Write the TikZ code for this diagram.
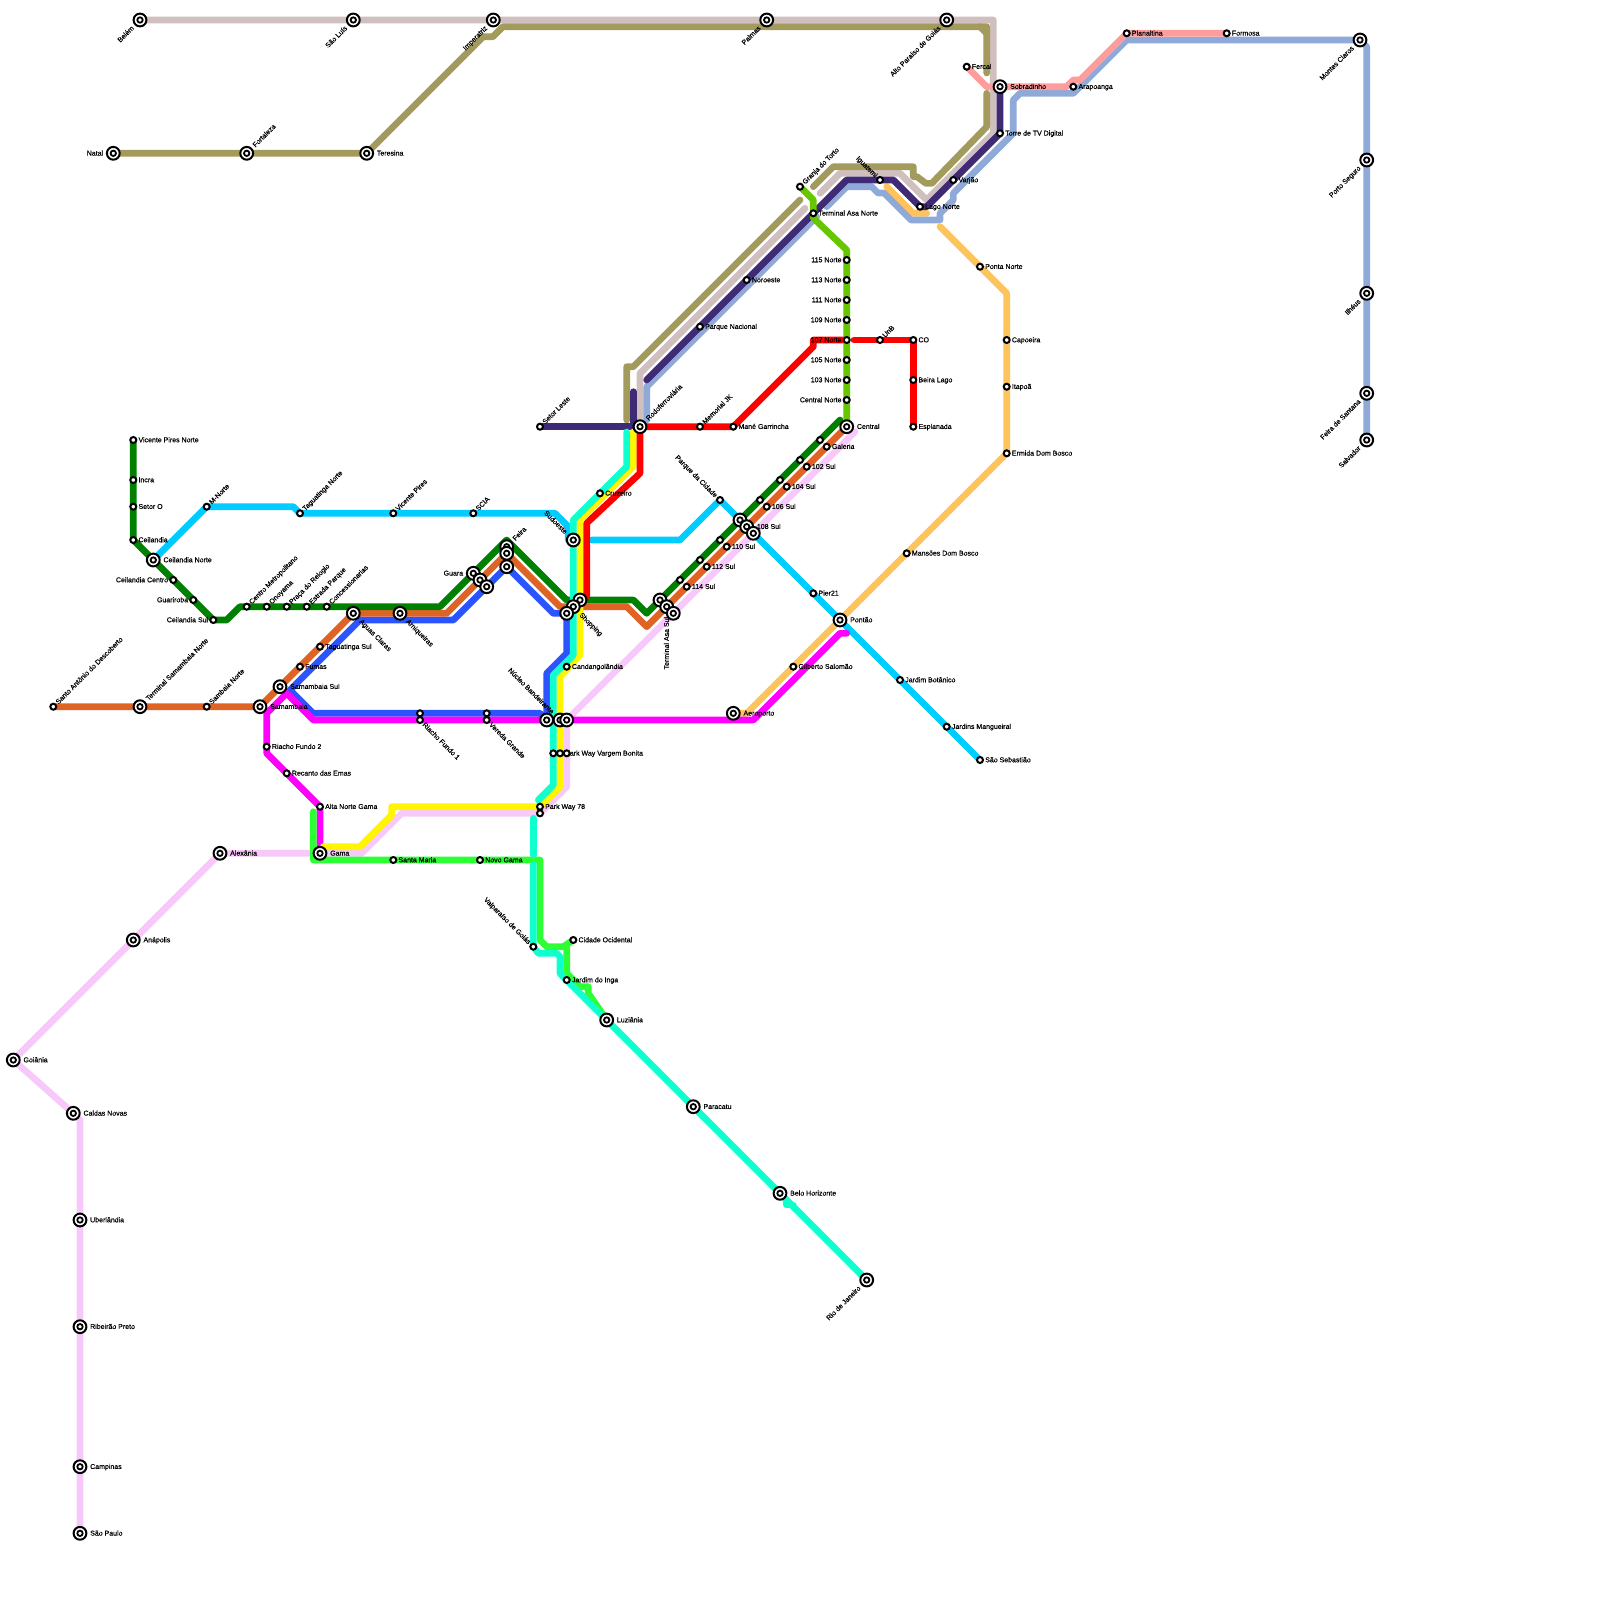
\documentclass[tikz,border=0pt]{standalone}
\usepackage{fontspec}
\setmainfont[FakeBold=0.4]{Liberation Sans}
\pgfdeclarelayer{bg}\pgfdeclarelayer{lab}
\pgfsetlayers{bg,lab,main}
\definecolor{cPink}{HTML}{F7C8FA}
\definecolor{cTaupe}{HTML}{D0BFBF}
\definecolor{cOlive}{HTML}{A39B5C}
\definecolor{cGold}{HTML}{FFC35C}
\definecolor{cSteel}{HTML}{8FAAD8}
\definecolor{cSalmon}{HTML}{FF9C9C}
\definecolor{cPurple}{HTML}{3F2A75}
\definecolor{cCyan}{HTML}{00CCFF}
\definecolor{cRoyal}{HTML}{2B54FF}
\definecolor{cMagenta}{HTML}{FF00FF}
\definecolor{cOrange}{HTML}{E06326}
\definecolor{cGreen}{HTML}{008000}
\definecolor{cYellow}{HTML}{FFF500}
\definecolor{cRed}{HTML}{FF0000}
\definecolor{cSpring}{HTML}{2CFF33}
\definecolor{cAqua}{HTML}{0FFFCE}
\definecolor{cLime}{HTML}{66C600}
\tikzset{
  ln/.style={line width=6.67pt,line cap=round,line join=round},
  ssta/.style={circle,draw=black,fill=white,line width=2pt,minimum size=6pt,inner sep=0pt},
  hsta/.style={circle,draw=black,fill=white,line width=2pt,minimum size=12.8pt,inner sep=0pt,
    path picture={\draw[black,line width=1.8pt] (path picture bounding box.center) circle (2.7pt);}},
  ltext/.style={font=\fontsize{7}{8}\selectfont,text=black,inner ysep=0pt,text height=5pt,text depth=0.5pt},
  lE/.style={ltext,anchor=west},
  lW/.style={ltext,anchor=east},
  lNE/.style={ltext,rotate=45,anchor=west},
  lSW/.style={ltext,rotate=45,anchor=east},
  lSE/.style={ltext,rotate=-45,anchor=west},
  lNW/.style={ltext,rotate=-45,anchor=east},
  lV/.style={ltext,rotate=90,anchor=east},
}
\newcommand{\sN}[3]{\node[ssta] (#1) at (#2,#3) {};}
\newcommand{\hN}[3]{\node[hsta] (#1) at (#2,#3) {};}
\newcommand{\lab}[4]{\begin{pgfonlayer}{lab}\node[l#2,inner xsep=#3pt] (#1-t) at (#1.center) {#4};\end{pgfonlayer}}
\newcommand{\sS}[5]{\sN{#1}{#2}{#3}\lab{#1}{#4}{5}{#5}}
\newcommand{\hH}[5]{\hN{#1}{#2}{#3}\lab{#1}{#4}{10}{#5}}
\begin{document}
\begin{tikzpicture}[x=1pt,y=-1pt]
\useasboundingbox (0,0) rectangle (1600,1600);
\begin{pgfonlayer}{bg}\fill[white] (0,0) rectangle (1600,1600);\end{pgfonlayer}
% hubs top
\hH{bel}{140}{20}{SW}{Belém}
\hH{slu}{353.3}{20}{SW}{São Luís}
\hH{imp}{493.3}{20}{SW}{Imperatriz}
\hH{pal}{766.7}{20}{SW}{Palmas}
\hH{alt}{946.7}{20}{SW}{Alto Paraíso de Goiás}
\hH{nat}{113.3}{153.3}{W}{Natal}
\hH{for}{246.7}{153.3}{NE}{Fortaleza}
\hH{ter}{366.7}{153.3}{E}{Teresina}
\hH{moc}{1360}{40}{SW}{Montes Claros}
\hH{pse}{1366.7}{160}{SW}{Porto Seguro}
\hH{ilh}{1366.7}{293.3}{SW}{Ilhéus}
\hH{fsa}{1366.7}{393.3}{SW}{Feira de Santana}
\hH{ssa}{1366.7}{440}{SW}{Salvador}
% north-east
\sS{fer}{966.7}{66.7}{E}{Fercal}
\hH{sob}{1000}{86.7}{E}{Sobradinho}
\sS{ara}{1073.3}{86.7}{E}{Arapoanga}
\sS{tor}{1000}{133.3}{E}{Torre de TV Digital}
\sS{pla}{1126.7}{33.3}{E}{Planaltina}
\sS{fmo}{1226.7}{33.3}{E}{Formosa}
\sS{var}{953.3}{180}{E}{Varjão}
\sS{igu}{880}{180}{NW}{Iguatemi}
\sS{lag}{920}{206.7}{E}{Lago Norte}
\sS{gra}{800}{186.7}{NE}{Granja do Torto}
\sS{tan}{813.3}{213.3}{E}{Terminal Asa Norte}
\sS{nor}{746.7}{280}{E}{Noroeste}
\sS{pqn}{700}{326.7}{E}{Parque Nacional}
\sS{n115}{846.7}{260}{W}{115 Norte}
\sS{n113}{846.7}{280}{W}{113 Norte}
\sS{n111}{846.7}{300}{W}{111 Norte}
\sS{n109}{846.7}{320}{W}{109 Norte}
\sS{n107}{846.7}{340}{W}{107 Norte}
\sS{n105}{846.7}{360}{W}{105 Norte}
\sS{n103}{846.7}{380}{W}{103 Norte}
\sS{cnn}{846.7}{400}{W}{Central Norte}
\hH{cen}{846.7}{426.7}{E}{Central}
\sS{unb}{880}{340}{NE}{UnB}
\sS{cob}{913.3}{340}{E}{CO}
\sS{bei}{913.3}{380}{E}{Beira Lago}
\sS{esp}{913.3}{426.7}{E}{Esplanada}
\sS{pon}{980}{266.7}{E}{Ponta Norte}
\sS{cap}{1006.7}{340}{E}{Capoeira}
\sS{ita}{1006.7}{386.7}{E}{Itapoã}
\sS{erm}{1006.7}{453.3}{E}{Ermida Dom Bosco}
\sS{mdb}{906.7}{553.3}{E}{Mansões Dom Bosco}
\hH{ptn}{840}{620}{E}{Pontão}
\sS{gil}{793.3}{666.7}{E}{Gilberto Salomão}
\hH{aer}{733.3}{713.3}{E}{Aeroporto}
\sS{pie}{813.3}{593.3}{E}{Pier21}
\sS{jbo}{900}{680}{E}{Jardim Botânico}
\sS{jma}{946.7}{726.7}{E}{Jardins Mangueiral}
\sS{sse}{980}{760}{E}{São Sebastião}
\sS{pqc}{720}{500}{NW}{Parque da Cidade}
\hH{rod}{640}{426.7}{NE}{Rodoferroviária}
\sS{mem}{700}{426.7}{NE}{Memorial JK}
\sS{mgr}{733.3}{426.7}{E}{Mané Garrincha}
\sS{stl}{540}{426.7}{NE}{Setor Leste}
% asa sul
\sN{g1}{820}{440}
\sN{g2}{800}{460}
\sN{g3}{780}{480}
\sN{g4}{760}{500}
\sN{g5}{720}{540}
\sN{g6}{700}{560}
\sN{g7}{680}{580}
\sS{gal}{826.7}{446.7}{E}{Galeria}
\sS{s102}{806.7}{466.7}{E}{102 Sul}
\sS{s104}{786.7}{486.7}{E}{104 Sul}
\sS{s106}{766.7}{506.7}{E}{106 Sul}
\sS{s110}{726.7}{546.7}{E}{110 Sul}
\sS{s112}{706.7}{566.7}{E}{112 Sul}
\sS{s114}{686.7}{586.7}{E}{114 Sul}
\hN{s108a}{740}{520}
\hH{s108b}{746.7}{526.7}{E}{108 Sul}
\hN{s108c}{753.3}{533.3}
\hN{tasa}{660}{600}
\hH{tasb}{666.7}{606.7}{V}{Terminal Asa Sul}
\hN{tasc}{673.3}{613.3}
% centre
\sS{cru}{600}{493.3}{E}{Cruzeiro}
\hH{sud}{573.3}{540}{NW}{Sudoeste}
\hN{sh1}{580}{600}
\hH{sh2}{573.3}{606.7}{SE}{Shopping}
\hN{sh3}{566.7}{613.3}
\sS{can}{566.7}{666.7}{E}{Candangolândia}
\hN{nb1}{546.7}{720}
\hH{nb2}{560}{720}{NW}{Núcleo Bandeirante}
\hN{nb3}{566.7}{720}
\sN{pva}{553.3}{753.3}
\sS{pvb}{560}{753.3}{E}{Park Way Vargem Bonita}
\sN{pvc}{566.7}{753.3}
\sS{pw1}{540}{806.7}{E}{Park Way 78}
\sN{pw2}{540}{813.3}
\sN{rfa}{420}{713.3}
\sS{rfb}{420}{720}{SE}{Riacho Fundo 1}
\sN{vga}{486.7}{713.3}
\sS{vgb}{486.7}{720}{SE}{Vereda Grande}
\hH{fe1}{506.7}{546.7}{NE}{Feira}
\hN{fe2}{506.7}{553.3}
\hN{fe3}{506.7}{566.7}
\hH{gu1}{473.3}{573.3}{W}{Guara}
\hN{gu2}{480}{580}
\hN{gu3}{486.7}{586.7}
\hH{arn}{400}{613.3}{SE}{Arniqueiras}
\hH{agc}{353.3}{613.3}{SE}{Aguas Claras}
\sS{sci}{473.3}{513.3}{NE}{SCIA}
\sS{vpr}{393.3}{513.3}{NE}{Vicente Pires}
\sS{tgn}{300}{513.3}{NE}{Taguatinga Norte}
\sS{mno}{206.7}{506.7}{NE}{M-Norte}
% west
\sS{vpn}{133.3}{440}{E}{Vicente Pires Norte}
\sS{inc}{133.3}{480}{E}{Incra}
\sS{seo}{133.3}{506.7}{E}{Setor O}
\sS{cei}{133.3}{540}{E}{Ceilandia}
\hH{cno}{153.3}{560}{E}{Ceilandia Norte}
\sS{cce}{173.3}{580}{W}{Ceilandia Centro}
\sS{gua}{193.3}{600}{W}{Guariroba}
\sS{csu}{213.3}{620}{W}{Ceilandia Sul}
\sS{cme}{246.7}{606.7}{NE}{Centro Metropolitano}
\sS{ono}{266.7}{606.7}{NE}{Onoyama}
\sS{pra}{286.7}{606.7}{NE}{Praça do Relogio}
\sS{est}{306.7}{606.7}{NE}{Estrada Parque}
\sS{con}{326.7}{606.7}{NE}{Concessionarias}
\sS{san}{53.3}{706.7}{NE}{Santo Antônio do Descoberto}
\hH{tsn}{140}{706.7}{NE}{Terminal Samambaia Norte}
\sS{sbn}{206.7}{706.7}{NE}{Sambaia Norte}
\hH{smb}{260}{706.7}{E}{Samambaia}
\hH{sms}{280}{686.7}{E}{Samambaia Sul}
\sS{fum}{300}{666.7}{E}{Fumas}
\sS{tgs}{320}{646.7}{E}{Taguatinga Sul}
\sS{rf2}{266.7}{746.7}{E}{Riacho Fundo 2}
\sS{rec}{286.7}{773.3}{E}{Recanto das Emas}
\sS{aln}{320}{806.7}{E}{Alta Norte Gama}
\hH{gam}{320}{853.3}{E}{Gama}
\sS{sma}{393.3}{860}{E}{Santa Maria}
\sS{nga}{480}{860}{E}{Novo Gama}
\sS{val}{533.3}{946.7}{NW}{Valparaíso de Goiás}
\sS{cid}{573.3}{940}{E}{Cidade Ocidental}
\sS{jin}{566.7}{980}{E}{Jardim do Inga}
\hH{lzn}{606.7}{1020}{E}{Luziânia}
\hH{par}{693.3}{1106.7}{E}{Paracatu}
\hH{bho}{780}{1193.3}{E}{Belo Horizonte}
\hH{rio}{866.7}{1280}{SW}{Rio de Janeiro}
\hH{ale}{220}{853.3}{E}{Alexânia}
\hH{ana}{133.3}{940}{E}{Anápolis}
\hH{goi}{13.3}{1060}{E}{Goiânia}
\hH{cal}{73.3}{1113.3}{E}{Caldas Novas}
\hH{ube}{80}{1220}{E}{Uberlândia}
\hH{rib}{80}{1326.7}{E}{Ribeirão Preto}
\hH{cam}{80}{1466.7}{E}{Campinas}
\hH{spa}{80}{1533.3}{E}{São Paulo}
\begin{pgfonlayer}{bg}
% pink
\draw[ln,cPink] (goi.center) -- (ana.center) -- (ale.center) -- (308.3,853.3);
\draw[ln,cPink] (goi.center) -- (cal.center) -- (80,1120) -- (ube.center) -- (rib.center) -- (cam.center) -- (spa.center);
\draw[ln,cPink] (gam.center) -- (361.7,853.3) -- (401.7,813.3) -- (pw2.center) -- (566.7,786.7) -- (nb3.center) -- (855,431.7);
% taupe
\draw[ln,cTaupe] (bel.center) -- (slu.center) -- (imp.center) -- (pal.center) -- (alt.center) -- (993.3,20) -- (993.3,133.3) -- (926.7,200) -- (900,173.3) -- (840,173.3) -- (820,193.3);
\draw[ln,cTaupe] (805,208.3) -- (640,373.3) -- (rod.center);
% olive
\draw[ln,cOlive] (nat.center) -- (for.center) -- (ter.center) -- (483.3,36.7) -- (493,36.7) -- (503,26.7) -- (986.7,26.7) -- (986.7,73);
\draw[ln,cOlive] (980,26.7) -- (986.7,33.3);
\draw[ln,cOlive] (986.7,93.3) -- (986.7,126.7) -- (931.7,183.4) -- (926,183.4) -- (917,176.7) -- (913.3,176.7) -- (913.3,166.7) -- (833.3,166.7) -- (813.3,186.7);
\draw[ln,cOlive] (800,200) -- (633.3,366.7) -- (626.7,366.7) -- (626.7,420);
% gold
\draw[ln,cGold] (886.7,186.7) -- (913.3,213.3) -- (926.7,213.3);
\draw[ln,cGold] (940,226.7) -- (pon.center) -- (1006.7,293.3) -- (cap.center) -- (ita.center) -- (erm.center) -- (mdb.center) -- (ptn.center) -- (gil.center) -- (746.7,713.3) -- (aer.center);
% steel
\draw[ln,cSteel] (646.7,420) -- (646.7,386.7) -- (816.7,216.7);
\draw[ln,cSteel] (826.7,206.7) -- (846.7,186.7) -- (871.7,186.7) -- (878,193) -- (884,193) -- (911,220) -- (940,220) -- (940,213.3) -- (953.3,200) -- (953.3,193.3) -- (1013.3,133.3) -- (1013.3,100) -- (1020,93.3) -- (1073.3,93.3) -- (1126.7,40) -- (moc.center) -- (1366.7,46.7) -- (pse.center) -- (ilh.center) -- (fsa.center) -- (ssa.center);
% salmon
\draw[ln,cSalmon] (fer.center) -- (986.7,86.7) -- (sob.center) -- (1066.7,86.7) -- (1073.3,80) -- (1080,80) -- (pla.center) -- (fmo.center);
% purple
\draw[ln,cPurple] (stl.center) -- (rod.center);
\draw[ln,cPurple] (633.3,391.7) -- (633.3,426.7);
\draw[ln,cPurple] (646.7,380) -- (pqn.center) -- (nor.center) -- (tan.center) -- (846.7,180) -- (igu.center) -- (893.3,180) -- (lag.center) -- (926.7,206.7) -- (var.center) -- (tor.center) -- (sob.center);
% cyan
\draw[ln,cCyan] (cno.center) -- (mno.center) -- (293.3,506.7) -- (tgn.center) -- (vpr.center) -- (sci.center) -- (555,513.3) -- (568.3,526.7) -- (568.3,540) -- (sud.center);
\draw[ln,cCyan] (591.7,540) -- (680,540) -- (pqc.center) -- (s108c.center) -- (pie.center) -- (ptn.center) -- (jbo.center) -- (jma.center) -- (sse.center);
% royal
\draw[ln,cRoyal] (agc.center) -- (360,620) -- (453.3,620) -- (fe3.center) -- (553.3,613.3) -- (sh3.center) -- (566.7,653.3) -- (546.7,673.3) -- (nb1.center);
\draw[ln,cRoyal] (360,620) -- (290,690) -- (313.3,713.3) -- (rfa.center) -- (vga.center) -- (540,713.3) -- (nb1.center);
% magenta
\draw[ln,cMagenta] (gam.center) -- (aln.center) -- (rec.center) -- (266.7,753.3) -- (rf2.center) -- (266.7,713.3) -- (286.7,693.3) -- (313.3,720) -- (rfb.center) -- (vgb.center) -- (nb1.center) -- (nb2.center) -- (nb3.center) -- (753.3,720) -- (840,633.3) -- (846.7,633.3);
% orange
\draw[ln,cOrange] (san.center) -- (tsn.center) -- (sbn.center) -- (smb.center) -- (sms.center) -- (fum.center) -- (tgs.center) -- (agc.center) -- (arn.center) -- (446.7,613.3) -- (gu2.center) -- (fe2.center) -- (560,606.7) -- (sh2.center) -- (626.7,606.7) -- (646.7,626.7) -- (tasb.center) -- (s114.center) -- (s112.center) -- (s110.center) -- (s108b.center) -- (s106.center) -- (s104.center) -- (s102.center) -- (gal.center) -- (cen.center);
% green
\draw[ln,cGreen] (vpn.center) -- (inc.center) -- (seo.center) -- (cei.center) -- (cno.center) -- (cce.center) -- (gua.center) -- (csu.center) -- (226.7,620) -- (240,606.7) -- (cme.center) -- (ono.center) -- (pra.center) -- (est.center) -- (con.center) -- (440,606.7) -- (gu1.center) -- (506.7,540) -- (566.7,600) -- (sh1.center) -- (633.3,600) -- (646.7,613.3) -- (tasa.center) -- (g7.center) -- (g6.center) -- (g5.center) -- (s108a.center) -- (g4.center) -- (g3.center) -- (g2.center) -- (g1.center) -- (840,420);
% yellow
\draw[ln,cYellow] (323.3,846.7) -- (360,846.7) -- (391.7,815) -- (391.7,806.7) -- (pw1.center) -- (560,786.7) -- (560,676.7) -- (580,655) -- (580,520) -- (633.3,466.7) -- (633.3,432);
% red
\draw[ln,cRed] (rod.center) -- (640,473.3) -- (590,520) -- (586.7,523.3) -- (586.7,596);
\draw[ln,cRed] (rod.center) -- (mem.center) -- (mgr.center) -- (813.3,346.7) -- (813.3,340) -- (n107.center);
\draw[ln,cRed] (854,340) -- (unb.center) -- (cob.center) -- (bei.center) -- (esp.center);
% spring
\draw[ln,cSpring] (313.3,811.7) -- (313.3,860) -- (sma.center) -- (nga.center) -- (540,860) -- (540,940) -- (546.7,946.7) -- (563.3,946.7) -- (cid.center);
\draw[ln,cSpring] (566.7,946.7) -- (566.7,973.3) -- (580,986.7) -- (588.3,986.7) -- (588.3,993.3) -- (lzn.center);
% aqua
\draw[ln,cAqua] (626.7,432) -- (626.7,466.7) -- (573.3,520) -- (sud.center) -- (573.3,655) -- (553.3,675) -- (553.3,785) -- (538.3,800);
\draw[ln,cAqua] (533.3,818.3) -- (533.3,855);
\draw[ln,cAqua] (533.3,865) -- (val.center) -- (538.3,953.3) -- (556.7,953.3) -- (560,956.7) -- (560,973.3) -- (lzn.center) -- (par.center) -- (bho.center) -- (rio.center);
\draw[ln,cAqua] (786.7,1200) -- (786.7,1205) -- (793.3,1205);
% lime
\draw[ln,cLime] (gra.center) -- (813.3,200) -- (tan.center) -- (813.3,218) -- (846.7,250) -- (n115.center) -- (n113.center) -- (n111.center) -- (n109.center) -- (n107.center) -- (n105.center) -- (n103.center) -- (cnn.center) -- (cen.center);
\end{pgfonlayer}
\end{tikzpicture}
\end{document}
